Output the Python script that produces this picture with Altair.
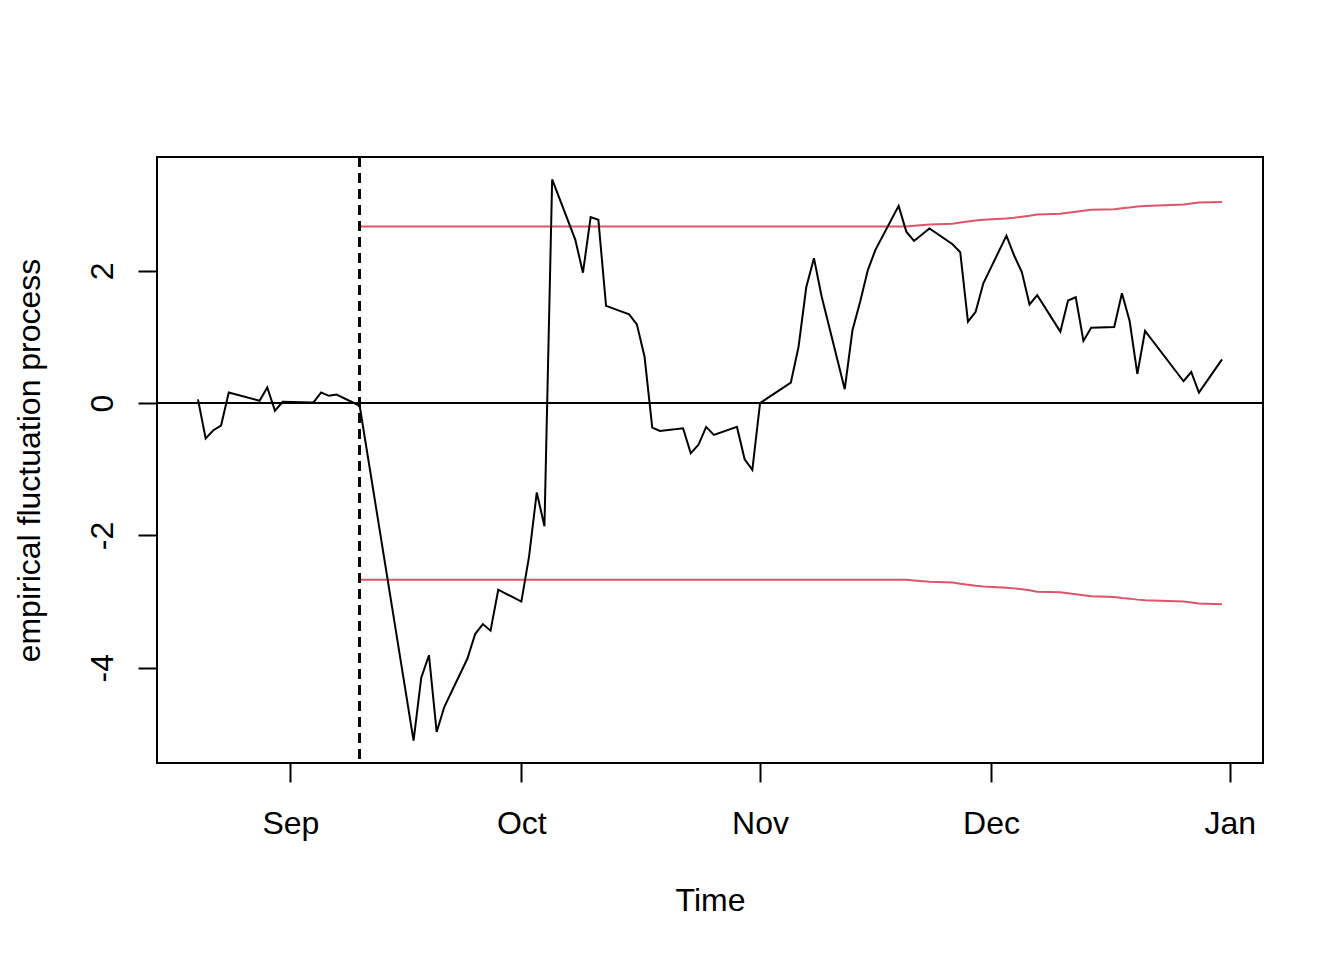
import altair as alt
import pandas as pd

# ---- data ----
dates = [
    "2012-08-20", "2012-08-21", "2012-08-22", "2012-08-23", "2012-08-24",
    "2012-08-28", "2012-08-29", "2012-08-30", "2012-08-31",
    "2012-09-04", "2012-09-05", "2012-09-06", "2012-09-07",
    "2012-09-10",
    "2012-09-17", "2012-09-18", "2012-09-19", "2012-09-20", "2012-09-21",
    "2012-09-24", "2012-09-25", "2012-09-26", "2012-09-27", "2012-09-28",
    "2012-10-01", "2012-10-02", "2012-10-03", "2012-10-04", "2012-10-05",
    "2012-10-08", "2012-10-09", "2012-10-10", "2012-10-11", "2012-10-12",
    "2012-10-15", "2012-10-16", "2012-10-17", "2012-10-18", "2012-10-19",
    "2012-10-22", "2012-10-23", "2012-10-24", "2012-10-25", "2012-10-26",
    "2012-10-29", "2012-10-30", "2012-10-31",
    "2012-11-01",
    "2012-11-05", "2012-11-06", "2012-11-07", "2012-11-08", "2012-11-09",
    "2012-11-12", "2012-11-13", "2012-11-14", "2012-11-15", "2012-11-16",
    "2012-11-19", "2012-11-20", "2012-11-21", "2012-11-23",
    "2012-11-26", "2012-11-27", "2012-11-28", "2012-11-29", "2012-11-30",
    "2012-12-03", "2012-12-04", "2012-12-05", "2012-12-06", "2012-12-07",
    "2012-12-10", "2012-12-11", "2012-12-12", "2012-12-13", "2012-12-14",
    "2012-12-17", "2012-12-18", "2012-12-19", "2012-12-20", "2012-12-21",
    "2012-12-26", "2012-12-27", "2012-12-28", "2012-12-31",
]

process = [
    0.056, -0.533, -0.41, -0.34, 0.16,
    0.035, 0.237, -0.116, 0.02,
    0.01, 0.16, 0.11, 0.13,
    -0.04,
    -5.10, -4.15, -3.81, -4.97, -4.59,
    -3.86, -3.49, -3.34, -3.44, -2.82,
    -3.00, -2.32, -1.35, -1.86, 3.38,
    2.47, 1.97, 2.81, 2.77, 1.47,
    1.34, 1.19, 0.70, -0.37, -0.42,
    -0.38, -0.76, -0.63, -0.36, -0.48,
    -0.36, -0.85, -1.01,
    0.00,
    0.31, 0.85, 1.75, 2.19, 1.61,
    0.21, 1.10, 1.53, 2.01, 2.32,
    2.98, 2.59, 2.45, 2.64,
    2.40, 2.28, 1.23, 1.38, 1.81,
    2.53, 2.23, 1.98, 1.49, 1.63,
    1.08, 1.55, 1.60, 0.94, 1.14,
    1.15, 1.66, 1.24, 0.44, 1.09,
    0.33, 0.47, 0.16, 0.66,
]

monitor_start = "2012-09-10"

# upper boundary, one value per observation from monitor_start onward
boundary = [2.67] * 47 + [
    2.68, 2.70,
    2.71, 2.73, 2.745, 2.76, 2.77,
    2.79, 2.80, 2.815, 2.83, 2.85,
    2.86, 2.875, 2.89, 2.905, 2.92,
    2.93, 2.945, 2.955, 2.97, 2.98,
    3.00, 3.015, 3.03, 3.04,
]

tick_dates = ["2012-09-01", "2012-10-01", "2012-11-01", "2012-12-01", "2013-01-01"]
y_ticks = [-4, -2, 0, 2]

# ---- tables ----
df = pd.DataFrame({"date": dates, "value": process})
bdates = [d for d in dates if d >= monitor_start]
bdf = pd.DataFrame({
    "date": bdates + bdates,
    "value": boundary + [-b for b in boundary],
    "side": ["upper"] * len(bdates) + ["lower"] * len(bdates),
})

FONT = "Liberation Sans"
RED = "#DF536B"
LW = 2

def dt(s, h=0, mi=0):
    y, m, d = (int(p) for p in s.split("-"))
    return alt.DateTime(year=y, month=m, date=d, hours=h, minutes=mi, utc=True)

x_scale = alt.Scale(type="utc", domain=[dt("2012-08-14", 16, 19), dt("2013-01-05", 7, 41)], nice=False)
y_scale = alt.Scale(domain=[-5.439, 3.719], nice=False, zero=False)

x_axis = alt.Axis(
    values=[dt(t) for t in tick_dates],
    labelExpr="utcFormat(datum.value, '%b')",
    title="Time", grid=False, domain=False,
    tickSize=19, tickWidth=LW, tickColor="black",
    labelFont=FONT, labelFontSize=32, labelColor="black",
    labelBaseline="alphabetic", labelPadding=51, labelAlign="center",
    labelFlush=False, labelOverlap=False,
    titleFont=FONT, titleFontSize=32, titleFontWeight="normal", titleColor="black",
    titleBaseline="alphabetic", titleAlign="center", titleX=553, titleY=147,
)
y_axis = alt.Axis(
    values=y_ticks, labelExpr="toString(datum.value)",
    title="empirical fluctuation process", grid=False, domain=False,
    tickSize=19, tickWidth=LW, tickColor="black",
    labelFont=FONT, labelFontSize=32, labelColor="black",
    labelAngle=270, labelAlign="center", labelBaseline="alphabetic", labelPadding=26,
    labelOverlap=False,
    titleFont=FONT, titleFontSize=32, titleFontWeight="normal", titleColor="black",
    titleAngle=270, titleBaseline="alphabetic", titleAlign="center", titleX=-118, titleY=303,
)

base_x = alt.X("date:T", scale=x_scale, axis=x_axis)
base_y = alt.Y("value:Q", scale=y_scale, axis=y_axis)

line = alt.Chart(df).mark_line(color="black", strokeWidth=LW).encode(x=base_x, y=base_y)

bounds = alt.Chart(bdf).mark_line(color=RED, strokeWidth=LW).encode(
    x=alt.X("date:T", scale=x_scale), y=alt.Y("value:Q", scale=y_scale), detail="side:N"
)

zero = alt.Chart(df).mark_rule(color="black", strokeWidth=LW).encode(y=alt.datum(0))

vline = alt.Chart(df).mark_rule(color="black", strokeWidth=LW, strokeDash=[10, 6]).encode(
    x=alt.datum(dt(monitor_start))
)

chart = alt.layer(zero, bounds, vline, line).properties(
    width=1106, height=606,
    background="white",
    autosize=alt.AutoSizeParams(type="none"),
    padding={"left": 149, "top": 149, "right": 70, "bottom": 170},
).configure_view(stroke="black", strokeWidth=LW)

chart.save("out.html", embed_options={"renderer": "svg", "actions": False})
